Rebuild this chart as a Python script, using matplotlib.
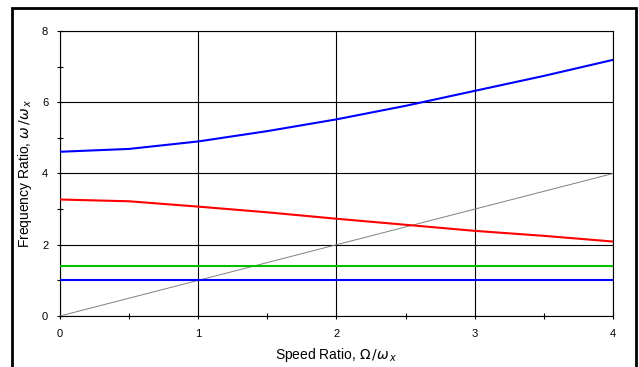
import numpy as np
import matplotlib
matplotlib.use('Agg')
import matplotlib.pyplot as plt
from matplotlib.patches import Rectangle
from matplotlib.ticker import MultipleLocator

plt.rcParams['font.family'] = ['Liberation Sans', 'DejaVu Sans']

# speed ratio Omega/omega_x
speed = [0.0, 0.5, 1.0, 1.5, 2.0, 2.5, 3.0, 3.5, 4.0]
# whirl frequency ratios omega/omega_x
mode_upper = [4.61, 4.69, 4.90, 5.19, 5.52, 5.90, 6.32, 6.74, 7.19]
mode_mid = [3.27, 3.22, 3.07, 2.91, 2.73, 2.56, 2.39, 2.25, 2.09]
mode_green = [1.41, 1.41, 1.41, 1.41, 1.41, 1.41, 1.41, 1.41, 1.41]
mode_low = [1.0, 1.0, 1.0, 1.0, 1.0, 1.0, 1.0, 1.0, 1.0]
sync_line = [0.0, 4.0]
sync_x = [0.0, 4.0]

fig = plt.figure(figsize=(6.39, 3.67), dpi=100)
ax = fig.add_axes([0.0939, 0.139, 0.8654, 0.7765])

# outer frame around the whole chart
fig.patches.append(Rectangle((12 / 639, -0.05), 624 / 639, 1.05 - 8 / 367,
                             transform=fig.transFigure, fill=False,
                             edgecolor='black', lw=2))

ax.plot(sync_x, sync_line, color='#808080', lw=0.7, zorder=3)
ax.plot(speed, mode_low, color='#0000ff', lw=1.5, zorder=4)
ax.plot(speed, mode_green, color='#00c000', lw=1.5, zorder=4)
ax.plot(speed, mode_mid, color='#ff0000', lw=1.5, zorder=4)
ax.plot(speed, mode_upper, color='#0000ff', lw=1.5, zorder=4)

ax.set_xlim(0, 4)
ax.set_ylim(0, 8)
ax.xaxis.set_major_locator(MultipleLocator(1))
ax.xaxis.set_minor_locator(MultipleLocator(0.5))
ax.yaxis.set_major_locator(MultipleLocator(2))
ax.yaxis.set_minor_locator(MultipleLocator(1))
ax.grid(True, which='major', color='black', lw=0.8)
ax.set_axisbelow(True)
ax.tick_params(which='both', direction='inout', length=5, width=0.8,
               labelsize=8)
ax.tick_params(axis='x', pad=7)
ax.tick_params(axis='y', pad=6)
for s in ax.spines.values():
    s.set_linewidth(0.8)

ax.set_xlabel(r'Speed Ratio, $\Omega\,/\omega_{\,x}$', fontsize=10, labelpad=5)
ax.set_ylabel(r'Frequency Ratio, $\omega\,/\omega_{\,x}$', fontsize=10, labelpad=6)

fig.savefig('out.png', dpi=100)
